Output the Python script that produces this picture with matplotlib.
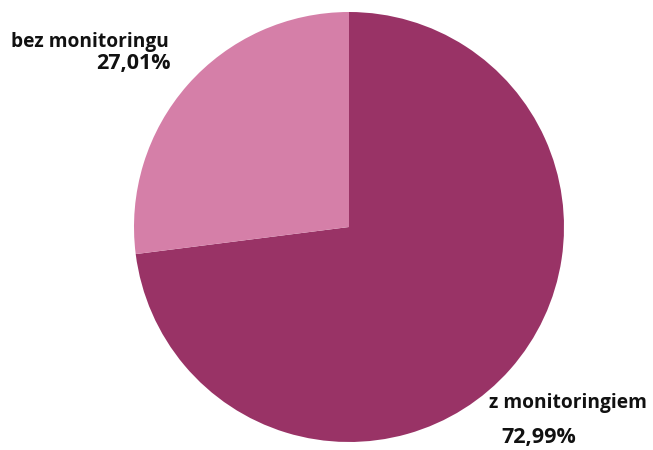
import matplotlib
matplotlib.use("Agg")
import matplotlib.pyplot as plt

labels = ["z monitoringiem", "bez monitoringu"]
values = [72.99, 27.01]
value_labels = ["72,99%", "27,01%"]
colors = ["#993366", "#D57FA8"]

W, H = 653, 450
fig = plt.figure(figsize=(W / 100, H / 100), dpi=100)

cx, cy, r = 349, 227, 215
ax = fig.add_axes([(cx - r) / W, (H - cy - r) / H, 2 * r / W, 2 * r / H])
ax.pie(values, colors=colors, startangle=90, counterclock=False,
       wedgeprops=dict(linewidth=0), radius=1)
ax.set_xlim(-1, 1)
ax.set_ylim(-1, 1)
ax.set_aspect("equal")
ax.axis("off")

font = dict(family=["Open Sans", "DejaVu Sans"], fontweight="bold", color="#111111")

def px(x, y):
    return x / W, 1 - y / H

# bez monitoringu (top left)
fig.text(*px(169, 42), labels[1], ha="right", va="center", fontsize=13.8, **font)
fig.text(*px(171, 63), value_labels[1], ha="right", va="center", fontsize=15.5, **font)
# z monitoringiem (bottom right)
fig.text(*px(489, 403), labels[0], ha="left", va="center", fontsize=13.8, **font)
fig.text(*px(501, 438), value_labels[0], ha="left", va="center", fontsize=15.5, **font)

fig.savefig("out.png", dpi=100)
